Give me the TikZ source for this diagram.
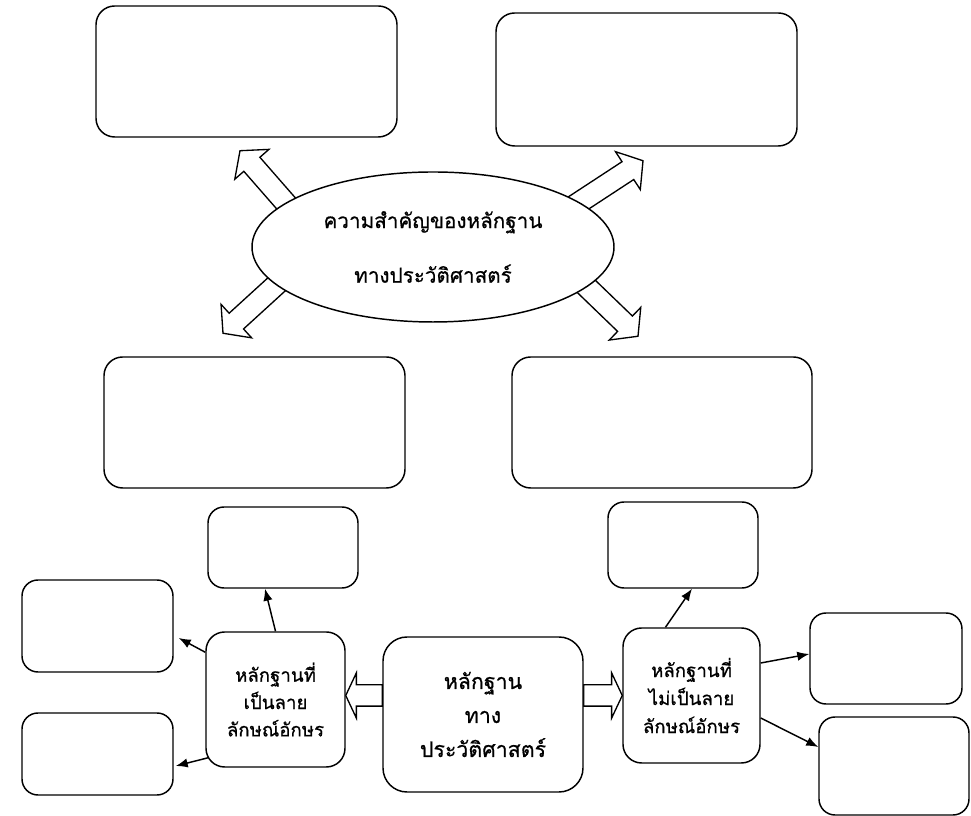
\documentclass[tikz,border=0pt]{standalone}
\usepackage{fontspec}
\newfontfamily\thaifont[Script=Thai,FakeBold=0.7]{Loma}
\usetikzlibrary{shapes.geometric,arrows.meta,calc,backgrounds}
\tikzset{
  kasten/.style={draw, rounded corners=14pt, line width=1.1pt, fill=white},
  pfeil/.style={-{Latex[length=9pt,width=7pt]}, line width=1.1pt},
  blockpfeil/.style={draw, fill=white, line width=1pt, to path={
    let \p1=(\tikztostart), \p2=(\tikztotarget),
        \n1={atan2(\y2-\y1,\x2-\x1)}, \n2={veclen(\x2-\x1,\y2-\y1)-#1} in
    ($(\p1)+({\n1-90}:8pt)$) -- ($(\p1)+(\n1:{\n2*1pt})+({\n1-90}:8pt)$)
    -- ($(\p1)+(\n1:{\n2*1pt})+({\n1-90}:17pt)$) -- (\p2)
    -- ($(\p1)+(\n1:{\n2*1pt})+({\n1+90}:17pt)$) -- ($(\p1)+(\n1:{\n2*1pt})+({\n1+90}:8pt)$)
    -- ($(\p1)+({\n1+90}:8pt)$) -- cycle}}
}
\begin{document}
\begin{tikzpicture}[x=0.75pt,y=0.75pt]
  \useasboundingbox (0,0) rectangle (971,816);
  % grosse leere Kaesten
  \foreach \name/\x/\y/\w/\h in {tl/246.5/744.5/301/131, tr/646.5/736.5/301/133,
                                 ml/254.5/393.5/301/131, mr/662/393.5/300/131}
   \node[kasten, minimum width=\w*0.75pt, minimum height=\h*0.75pt] (\name) at (\x,\y) {};
  % kleine leere Kaesten
  \foreach \name/\x/\y/\w/\h in {sTL/283/268.5/150/81, sLU/97.5/190/151/92, sLL/97.5/62/151/82,
                                 sTR/683/271/150/86, sRU/886/157.5/152/91, sRL/894/50/150/98}
   \node[kasten, rounded corners=12pt, minimum width=\w*0.75pt, minimum height=\h*0.75pt] (\name) at (\x,\y) {};
  % Die Ellipse
  \node[ellipse, draw, fill=white, line width=1.1pt, minimum width=271.5pt, minimum height=112.5pt,
        align=center, font=\thaifont\fontsize{15.5pt}{41pt}\selectfont] (bed) at (433,569)
        {ความสำคัญของหลักฐาน\\ทางประวัติศาสตร์};
  % Hauptknoten unten
  \node[kasten, rounded corners=18pt, minimum width=150pt, minimum height=116.25pt,
        align=center, font=\thaifont\fontsize{16pt}{25.5pt}\selectfont] (hq) at (483,101.5)
        {หลักฐาน\\ทาง\\ประวัติศาสตร์};
  \node[kasten, minimum width=104.25pt, minimum height=101.25pt,
        align=center, font=\thaifont\fontsize{14pt}{20.5pt}\selectfont] (sq) at (275.5,116.5)
        {หลักฐานที่\\เป็นลาย\\ลักษณ์อักษร};
  \node[kasten, minimum width=102.75pt, minimum height=101.25pt,
        align=center, font=\thaifont\fontsize{14pt}{21pt}\selectfont] (nsq) at (691.5,120.5)
        {หลักฐานที่\\ไม่เป็นลาย\\ลักษณ์อักษร};
  % Enden der Blockpfeile
  \coordinate (ulA) at ($(bed.center)!0.93!(bed.165)$);
  \coordinate (ulB) at ($(tl.south)+(-6.5,-13)$);
  \coordinate (orA) at ($(bed.center)!0.93!(bed.16)$);
  \coordinate (orB) at ($(tr.south)+(-3.5,-14)$);
  \coordinate (llA) at ($(bed.center)!0.93!(bed.192.6)$);
  \coordinate (llB) at ($(ml.north)+(-31.5,23)$);
  \coordinate (lrA) at ($(bed.center)!0.93!(bed.347)$);
  \coordinate (lrB) at ($(mr.north)+(-24,20)$);
  \begin{scope}[on background layer]
   \fill[white] (0,0) rectangle (971,816);
   \draw[blockpfeil=13.5] (ulA) to (ulB);
   \draw[blockpfeil=13.5] (orA) to (orB);
   \draw[blockpfeil=13.5] (llA) to (llB);
   \draw[blockpfeil=13.5] (lrA) to (lrB);
   \draw[blockpfeil=8] (hq.west |- nsq.west) to (sq.east |- nsq.west);
   \draw[blockpfeil=8] (hq.east |- nsq.west) to (nsq.west);
  \end{scope}
  % duenne Pfeile
  \draw[pfeil] (sq.north) -- ($(sTL.south)+(-18,0)$);
  \draw[pfeil] ($(sq.north west)+(0,-21)$) -- ($(sLU.east)+(5,-12)$);
  \draw[pfeil] ($(sq.south west)+(3,10)$) -- ($(sLL.east)+(2,-12)$);
  \draw[pfeil] ($(nsq.north)+(-26,0)$) -- ($(sTR.south)+(9,0)$);
  \draw[pfeil] ($(nsq.east)+(0,32.5)$) -- ($(sRU.west)+(0,4.5)$);
  \draw[pfeil] ($(nsq.east)+(0,-22.5)$) -- ($(sRL.west)+(0,19)$);
\end{tikzpicture}
\end{document}
